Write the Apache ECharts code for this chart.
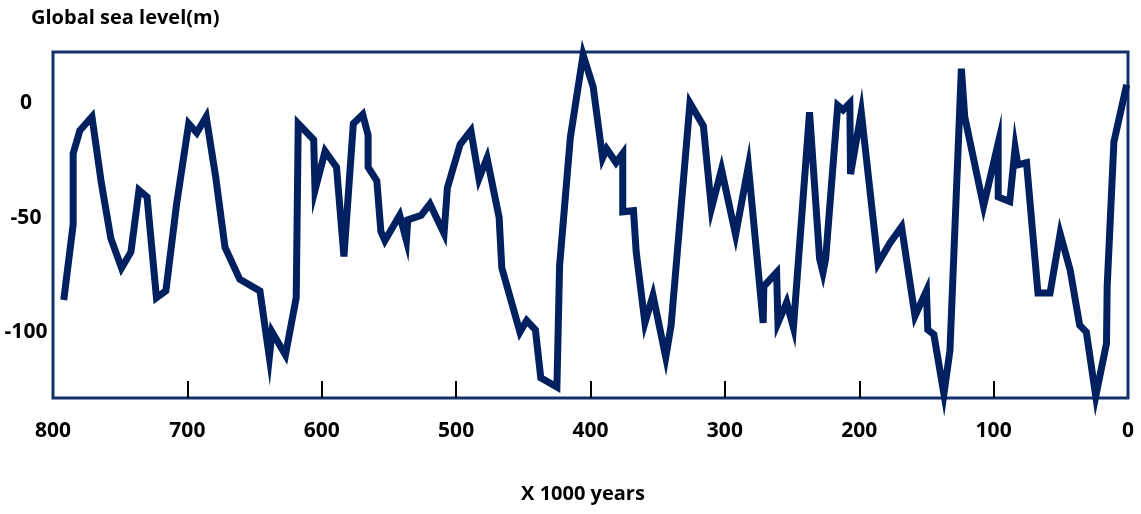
<!DOCTYPE html>
<html>
<head>
<meta charset="utf-8">
<script src="https://cdn.jsdelivr.net/npm/echarts@6/dist/echarts.min.js"></script>
<style>html,body{margin:0;padding:0;background:#fff;}#c{width:1141px;height:514px;}</style>
</head>
<body>
<div id="c"></div>
<script>
// Age (x 1000 years before present) and global sea level (m)
var years = [792,785,785,780,771,764,757,749,742,736,730,723,716,708,699,693,686,679,672,661,646,639,637,627,619,617.5,606,605,597.5,589,583.5,576.5,569.5,565.5,565.5,559,556,553,542,537,536,526,519.5,509,506.5,497,489,483,477,468,466,452.5,447.5,441,437,425,423,415,405.5,398,391,388,381,376,376,368,366,359.5,353.5,344,340,326,316,310,302.5,292,282.5,271.5,271,261.5,260.5,254,249,237,229.5,227,225,216,212,207,206.5,198.5,186,177,168.5,158.5,150,149,144.5,137,132.5,124,121.5,107.5,96.6,96.6,88,84,82,75.5,67,58,50.5,43,36,31,24,16,15.5,10.5,1];
var level = [-86,-53,-22,-12,-6,-35,-59,-72,-65,-38,-41,-85,-82,-44,-9,-13,-6,-32,-63,-77,-82,-111,-100,-110,-85,-9,-16,-38,-21,-28,-67,-9,-5,-14,-28,-34,-56,-60,-49,-60,-51,-49,-44,-57,-37,-18,-12,-33,-24,-50,-72,-100,-95,-99,-120,-124,-71,-15,21,7,-24,-20,-26,-22,-47.5,-47,-65,-96,-84,-111,-97,0,-10,-46,-29,-57.5,-27.5,-96,-80,-74,-96,-87,-98,-4,-68,-74,-68,-1,-3,0,-31,-4,-70,-61,-54,-93,-82,-99,-101,-127,-108,15,-6,-45,-17.5,-41,-43,-19.5,-27,-26,-83,-83,-57,-73,-97,-100,-128,-105,-80,-17,8];
var xTickValues = [800,700,600,500,400,300,200,100,0];
var xInnerTicks = [700,600,500,400,300,200,100];
var yTickValues = [0,-50,-100];

var data = years.map(function(y,i){return [y, level[i]];});
var chart = echarts.init(document.getElementById('c'), null, {renderer:'canvas'});
chart.setOption({
  animation:false,
  backgroundColor:'#ffffff',
  title:{text:'Global sea level(m)', left:26, top:3,
    textStyle:{fontFamily:'Open Sans', fontWeight:'bold', fontSize:20, color:'#000'}},
  grid:{left:53, right:13, top:52, bottom:116, show:true, borderColor:'#14306b', borderWidth:3, backgroundColor:'transparent'},
  xAxis:{type:'value', inverse:true, min:0, max:800, interval:100,
    name:'X 1000 years', nameLocation:'middle', nameGap:86,
    nameTextStyle:{fontFamily:'Open Sans', fontWeight:'bold', fontSize:20, color:'#000', padding:[0,15,0,0]},
    axisLine:{show:false, onZero:false},
    splitLine:{show:false},
    axisTick:{show:true, inside:true, length:17, lineStyle:{color:'#000', width:2}, customValues:xInnerTicks},
    axisLabel:{margin:23, fontFamily:'Open Sans', fontWeight:'bold', fontSize:21, color:'#000', customValues:xTickValues, showMinLabel:true, showMaxLabel:true}
  },
  yAxis:{type:'value', min:-128.8, max:22.3,
    axisLine:{show:false, onZero:false}, splitLine:{show:false}, axisTick:{show:false},
    axisLabel:{align:'center', margin:27, fontFamily:'Open Sans', fontWeight:'bold', fontSize:21, color:'#000', customValues:yTickValues}
  },
  series:[{type:'line', data:data, symbol:'none', clip:false,
    lineStyle:{color:'#012060', width:7, join:'miter', miterLimit:10, cap:'butt'}}]
});
</script>
</body>
</html>
